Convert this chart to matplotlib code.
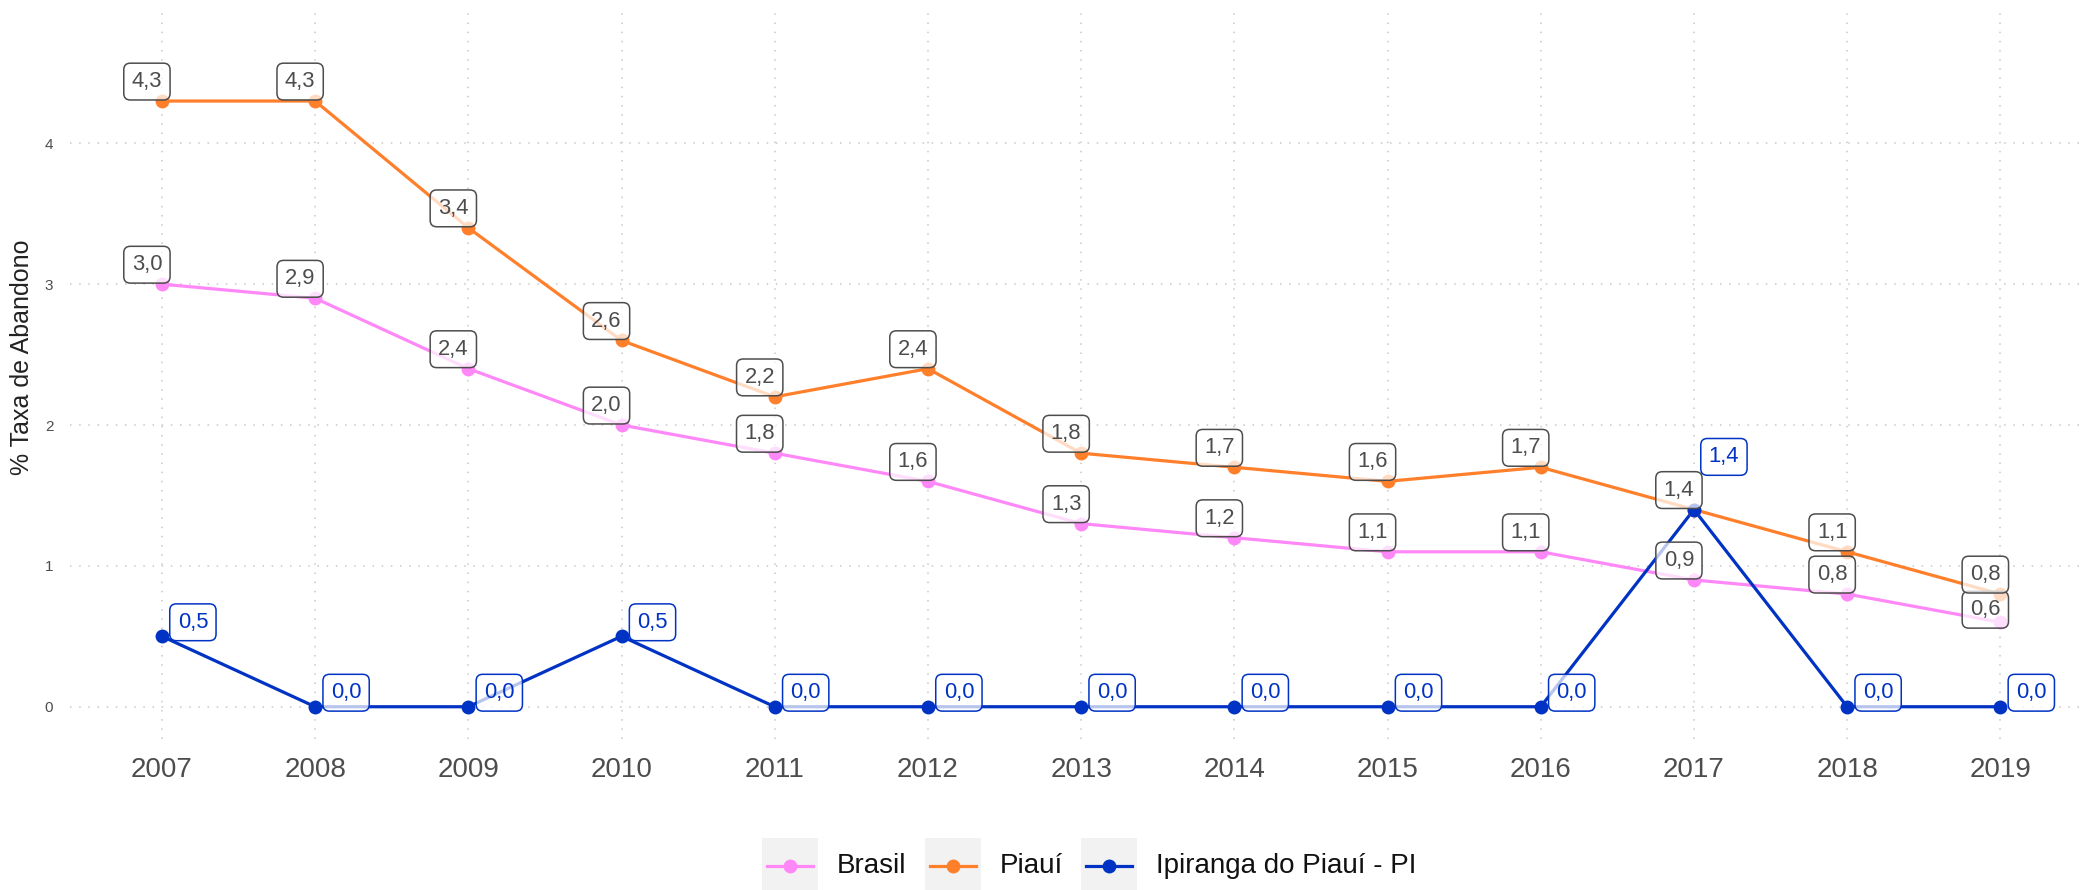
import matplotlib
matplotlib.use("Agg")
import matplotlib.pyplot as plt
from matplotlib.patches import Rectangle
from matplotlib.lines import Line2D

plt.rcParams['font.family'] = ['Liberation Sans', 'DejaVu Sans']

# Taxa de abandono (%) por ano
anos = [2007, 2008, 2009, 2010, 2011, 2012, 2013, 2014, 2015, 2016, 2017, 2018, 2019]
brasil = [3.0, 2.9, 2.4, 2.0, 1.8, 1.6, 1.3, 1.2, 1.1, 1.1, 0.9, 0.8, 0.6]
piaui = [4.3, 4.3, 3.4, 2.6, 2.2, 2.4, 1.8, 1.7, 1.6, 1.7, 1.4, 1.1, 0.8]
ipiranga = [0.5, 0.0, 0.0, 0.5, 0.0, 0.0, 0.0, 0.0, 0.0, 0.0, 1.4, 0.0, 0.0]

series_names = ["Brasil", "Piauí", "Ipiranga do Piauí - PI"]
series_values = [brasil, piaui, ipiranga]
series_colors = ["#FF88F8", "#FF7F2A", "#0033C4"]

# label placement (offset points from each point) per series, plus a few nudges
label_offsets = [(-10.8, 14.0), (-10.8, 14.0), (22.3, 10.1)]
label_nudges = {(0, 2019): (0, -5.0), (2, 2017): (-0.7, 27.8)}

W, H = 2080, 890
fig = plt.figure(figsize=(W / 100, H / 100), dpi=100)
ax = fig.add_axes([70 / W, 1 - 739 / H, (W - 70) / W, (739 - 12) / H])

# lines first, then points, then labels on top
for vals, col in zip(series_values, series_colors):
    ax.plot(anos, vals, color=col, lw=2.3, zorder=3, solid_capstyle='butt')
for vals, col in zip(series_values, series_colors):
    ax.plot(anos, vals, 'o', color=col, ms=10, mew=0, zorder=4)

for si, (vals, col) in enumerate(zip(series_values, series_colors)):
    is_local = si == 2
    tcol = col if is_local else "#4D4D4D"
    ecol = col if is_local else "#4D4D4D"
    ox, oy = label_offsets[si]
    for a, v in zip(anos, vals):
        nx, ny = label_nudges.get((si, a), (0, 0))
        ax.annotate(f"{v:.1f}".replace(".", ","), xy=(a, v),
                    xytext=(ox + nx, oy + ny), textcoords='offset points',
                    ha='center', va='center', fontsize=15.8, color=tcol, zorder=6,
                    bbox=dict(boxstyle="round,pad=0.36,rounding_size=0.3",
                              fc=(1, 1, 1, 0.72), ec=ecol, lw=1.1))

ax.set_xlim(2006.40, 2019.52)
ax.set_ylim(-0.229, 4.932)
ax.set_xticks(anos)
ax.set_xticklabels([str(a) for a in anos])
ax.set_yticks([0, 1, 2, 3, 4])
ax.set_yticklabels(["0", "1", "2", "3", "4"])
ax.tick_params(axis='x', length=0, pad=13, labelsize=20, labelcolor="#4D4D4D")
ax.tick_params(axis='y', length=0, pad=12, labelsize=11, labelcolor="#4D4D4D")
for s in ax.spines.values():
    s.set_visible(False)
ax.grid(True, color="#C8C8C8", lw=1.1, linestyle=(0, (1, 5)))
ax.set_axisbelow(True)

fig.text(22 / W, 1 - 357 / H, "% Taxa de Abandono", rotation=90,
         ha='center', va='center', fontsize=18, color="#222222")

# legend along the bottom, drawn by hand with grey key backgrounds
fig.canvas.draw()
renderer = fig.canvas.get_renderer()
key_w, key_h = 56, 56
gap_text, gap_next = 19, 18
cy = 866
x = 762
for name, col in zip(series_names, series_colors):
    fig.patches.append(Rectangle((x / W, 1 - (cy + key_h / 2) / H), key_w / W, key_h / H,
                                 transform=fig.transFigure, fc="#F2F2F2", ec='none'))
    fig.lines.append(Line2D([(x + 5) / W, (x + key_w - 5) / W], [1 - cy / H, 1 - cy / H],
                            transform=fig.transFigure, color=col, lw=2.3))
    fig.lines.append(Line2D([(x + key_w / 2) / W], [1 - cy / H], marker='o', ms=10, mew=0,
                            transform=fig.transFigure, color=col))
    t = fig.text((x + key_w + gap_text) / W, 1 - cy / H, name, ha='left', va='center',
                 fontsize=20, color="#111111")
    tw = t.get_window_extent(renderer=renderer).width
    x = x + key_w + gap_text + tw + gap_next

fig.savefig("out.png", dpi=100)
